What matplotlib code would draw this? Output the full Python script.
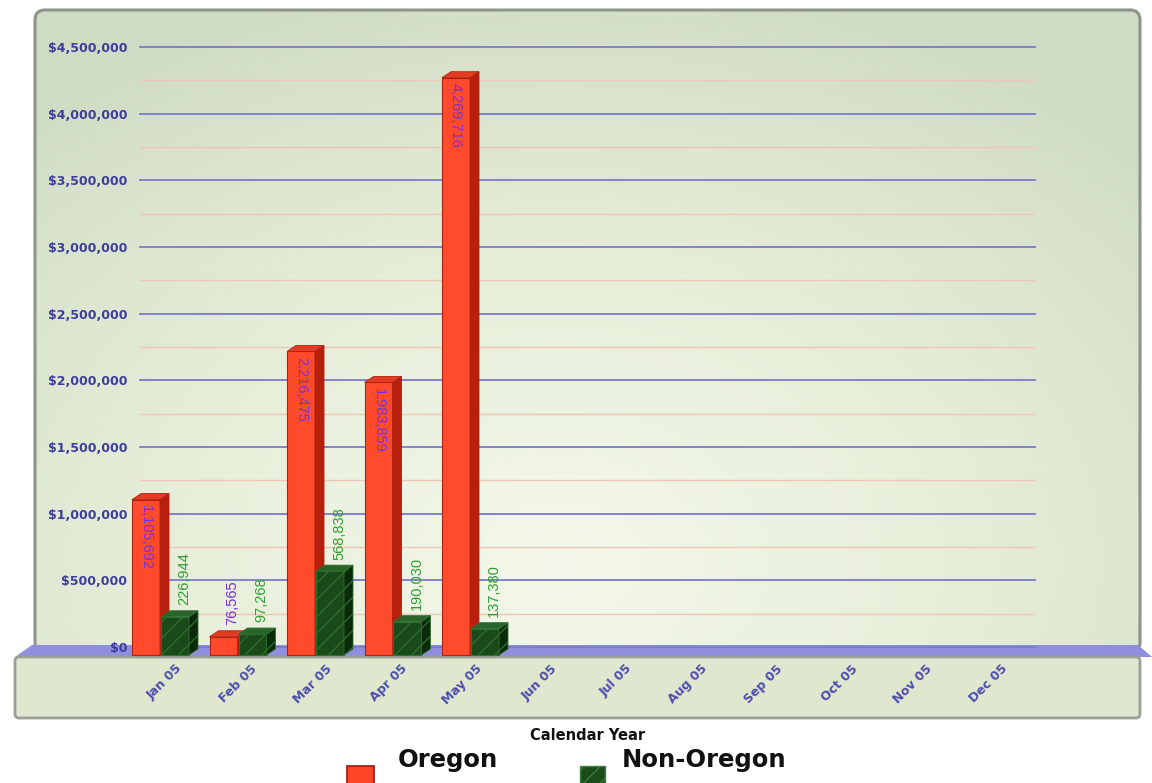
import numpy as np
import matplotlib
matplotlib.use("Agg")
import matplotlib.pyplot as plt
from matplotlib.patches import Polygon, Rectangle, FancyBboxPatch
from matplotlib.colors import LinearSegmentedColormap

# -------------------- datos --------------------
months = ["Jan 05", "Feb 05", "Mar 05", "Apr 05", "May 05", "Jun 05",
          "Jul 05", "Aug 05", "Sep 05", "Oct 05", "Nov 05", "Dec 05"]
oregon = [1105692, 76565, 2216475, 1983859, 4269716]
non_oregon = [226944, 97268, 568838, 190030, 137380]
yticks = np.arange(0, 4500001, 500000)

W, H = 1152, 783
plt.rcParams["hatch.linewidth"] = 0.9
fig = plt.figure(figsize=(W / 100, H / 100), dpi=100)
fig.patch.set_facecolor("white")

# -------------------- fondo (coordenadas en pixeles) --------------------
bg = fig.add_axes([0, 0, 1, 1], zorder=0)
bg.set_xlim(0, W)
bg.set_ylim(H, 0)
bg.axis("off")

wall = FancyBboxPatch((35, 10), 1105, 642, boxstyle="round,pad=0,rounding_size=10",
                      facecolor="none", edgecolor="#8d958b", lw=2.2, zorder=2)
bg.add_patch(wall)
yy, xx = np.mgrid[0:H, 0:W]
r = np.sqrt(((xx - 560) / 820.0) ** 2 + ((yy - 560) / 600.0) ** 2)
cmap_wall = LinearSegmentedColormap.from_list("wall", ["#f4f8ea", "#e6eed9", "#d0dbc6"])
img = bg.imshow(np.clip(r, 0, 1), cmap=cmap_wall, extent=(0, W, H, 0), zorder=1,
                aspect="auto")
img.set_clip_path(wall)

# suelo azul
floor = Polygon([(32, 645), (1138, 645), (1152, 657), (15, 657)], closed=True,
                facecolor="#8f8fde", edgecolor="none", zorder=3)
bg.add_patch(floor)

# panel frontal
front = FancyBboxPatch((15, 657), 1125, 61, boxstyle="round,pad=0,rounding_size=4",
                       facecolor="#dfe7cf", edgecolor="#9a9f98", lw=2, zorder=3)
bg.add_patch(front)

bg.text(588, 736, "Calendar Year", ha="center", va="center", fontsize=10.5,
        fontweight="bold", family="DejaVu Sans", color="#111111", zorder=4)

# leyenda
bg.add_patch(Rectangle((347, 766), 27, 22, facecolor="#ff4526", edgecolor="#a01810",
                       lw=1.2, zorder=4))
bg.text(398, 760, "Oregon", ha="left", va="center", fontsize=17.5, fontweight="bold",
        family="DejaVu Sans", color="#111111", zorder=4)
bg.add_patch(Rectangle((580, 766), 25, 22, facecolor="#1b4d1b", edgecolor="#3f7f3f",
                       hatch="//", lw=1.0, zorder=4))
bg.text(622, 760, "Non-Oregon", ha="left", va="center", fontsize=17.5, fontweight="bold",
        family="DejaVu Sans", color="#111111", zorder=4)

# -------------------- grafico principal --------------------
ax = fig.add_axes([140 / W, (H - 647) / H, 895 / W, 600 / H], zorder=2)
ax.patch.set_alpha(0)
for s in ax.spines.values():
    s.set_visible(False)

unit_px = 77.5           # pixeles por categoria
px_y = 600 / 4.5e6       # pixeles por dolar
ax.set_xlim(-20 / unit_px, 875 / unit_px)
ax.set_ylim(0, 4.5e6)

for v in yticks:
    ax.axhline(v, color="#7a7acb", lw=1.3, zorder=1, clip_on=False)
for v in yticks[:-1] + 250000:
    ax.axhline(v, color="#f1c5b5", lw=1.0, zorder=1)

ax.set_yticks(yticks)
ax.set_yticklabels([f"${v:,.0f}" for v in yticks], fontsize=9, fontweight="bold",
                   color="#3d3d9c", family="DejaVu Sans")
ax.tick_params(axis="y", length=0, pad=9)

xt = (25 + 75 * np.arange(len(months))) / unit_px
ax.set_xticks(xt)
ax.set_xticklabels(months, rotation=45, ha="right", va="top", fontsize=9,
                   fontweight="bold", color="#4d4dac", family="DejaVu Sans")
ax.tick_params(axis="x", length=0, pad=11)

bw = 28 / unit_px
dx = 9 / unit_px
dy = 6 / px_y
floor_depth = 8 / px_y


def bar3d(x0, val, front_c, side_c, top_c, edge_c, hatch=None, z=3):
    ax.bar(x0, val + floor_depth, bw, bottom=-floor_depth, align="edge",
           facecolor=front_c, edgecolor=edge_c, lw=0.8, hatch=hatch, zorder=z,
           clip_on=False)
    side = [(x0 + bw, -floor_depth), (x0 + bw + dx, -floor_depth + dy),
            (x0 + bw + dx, val + dy), (x0 + bw, val)]
    top = [(x0, val), (x0 + dx, val + dy), (x0 + bw + dx, val + dy), (x0 + bw, val)]
    ax.add_patch(Polygon(side, closed=True, facecolor=side_c, edgecolor=edge_c,
                         lw=0.6, hatch=hatch, zorder=z, clip_on=False))
    ax.add_patch(Polygon(top, closed=True, facecolor=top_c, edgecolor=edge_c,
                         lw=0.6, zorder=z, clip_on=False))


for i, (o, n) in enumerate(zip(oregon, non_oregon)):
    xo = i - 28 / unit_px
    bar3d(xo, o, "#ff4b2b", "#b8200e", "#e23c22", "#b02010", z=3)
    xn = i + 1 / unit_px
    bar3d(xn, n, "#1a4a1a", "#0a2a0a", "#2a642a", "#2f6f2f", hatch="//", z=4)

    if o > 500000:
        ax.annotate(f"{o:,}", (xo + bw / 2, o), xytext=(0, -4), textcoords="offset points",
                    rotation=270, ha="center", va="top", fontsize=10.5,
                    color="#7a2fd6", family="Liberation Sans", zorder=6)
    else:
        ax.annotate(f"{o:,}", (xo + bw / 2 + dx, o + dy), xytext=(0, 4),
                    textcoords="offset points", rotation=90, ha="center", va="bottom",
                    fontsize=10.5, color="#7a2fd6", family="Liberation Sans", zorder=6)
    ax.annotate(f"{n:,}", (xn + bw / 2 + dx, n + dy), xytext=(0, 4),
                textcoords="offset points", rotation=90, ha="center", va="bottom",
                fontsize=10.5, color="#2f9e2f", family="Liberation Sans", zorder=6)

fig.savefig("out.png", dpi=100)
